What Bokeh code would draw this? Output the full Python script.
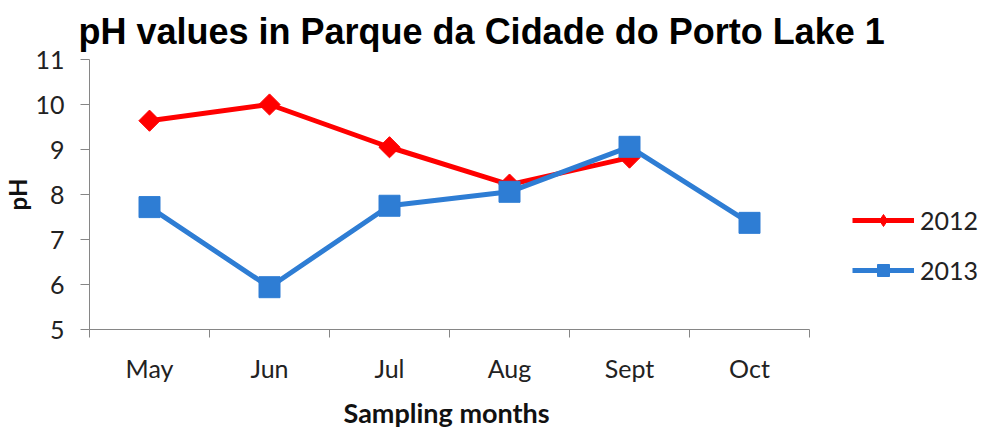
import math
from bokeh.plotting import figure
from bokeh.models import Range1d, FixedTicker, Legend, LegendItem, Title
from bokeh.embed import file_html
from bokeh.resources import INLINE

months = ["May", "Jun", "Jul", "Aug", "Sept", "Oct"]
months_2012 = ["May", "Jun", "Jul", "Aug", "Sept"]
ph_2012 = [9.64, 10.0, 9.05, 8.22, 8.82]
ph_2013 = [7.72, 5.94, 7.75, 8.06, 9.06, 7.37]
y_ticks = [5, 6, 7, 8, 9, 10, 11]
title_text = "pH values in Parque da Cidade do Porto Lake 1"
x_title = "Sampling months"
y_title = "pH"

RED = "#FF0000"
BLUE = "#2E7DD4"
AXIS = "#868686"
FONT = "Lato"

pos = {m: i + 1 for i, m in enumerate(months)}
x12 = [pos[m] for m in months_2012]
x13 = [pos[m] for m in months]
x_lo, x_hi = 0.5, len(months) + 0.5

# frame extends past the axis to host the legend (axis is bounded to the months)
p = figure(width=993, height=441, output_backend="svg", toolbar_location=None,
           x_range=Range1d(x_lo, x_hi + 1.5), y_range=Range1d(min(y_ticks), max(y_ticks)),
           min_border_left=89, min_border_right=4, min_border_top=59, min_border_bottom=112)
p.outline_line_color = None
p.xgrid.visible = False
p.ygrid.visible = False
p.background_fill_color = "white"
p.border_fill_color = "white"

p.title.text = title_text
p.title.align = "left"
p.title.offset = -11
p.title.text_font = "Liberation Sans"
p.title.text_font_style = "bold"
p.title.text_font_size = "36px"
p.title.text_color = "#000000"
p.title.standoff = 16

l1 = p.line(x12, ph_2012, line_color=RED, line_width=5, line_join="round")
# diamond key used for the legend; hidden under the rotated-square markers in the plot
k1 = p.scatter(x12, ph_2012, marker="diamond", size=19, fill_color=RED, line_color=RED)
s1 = p.scatter(x12, ph_2012, marker="square", angle=math.pi / 4, size=15,
               fill_color=RED, line_color=RED)
l2 = p.line(x13, ph_2013, line_color=BLUE, line_width=5, line_join="round")
s2 = p.scatter(x13, ph_2013, marker="square", size=21, fill_color=BLUE, line_color=BLUE)

xa = p.xaxis[0]
xa.bounds = (x_lo, x_hi)
xa.ticker = FixedTicker(ticks=list(pos.values()),
                        minor_ticks=[v - 0.5 for v in pos.values()] + [x_hi])
xa.major_label_overrides = {v: k for k, v in pos.items()}
xa.axis_line_color = AXIS
xa.major_tick_line_color = None
xa.major_tick_out = 0
xa.major_tick_in = 0
xa.minor_tick_line_color = AXIS
xa.minor_tick_out = 8
xa.minor_tick_in = 0
xa.major_label_standoff = 15
xa.major_label_text_font = FONT
xa.major_label_text_font_size = "25px"
xa.major_label_text_color = "#222222"

xt = Title(text=x_title, align="left", offset=254, standoff=16,
           text_font=FONT, text_font_style="bold", text_font_size="27px",
           text_color="#111111")
p.add_layout(xt, "below")

ya = p.yaxis[0]
ya.ticker = FixedTicker(ticks=y_ticks)
ya.axis_line_color = AXIS
ya.major_tick_line_color = AXIS
ya.major_tick_out = 9
ya.major_tick_in = 0
ya.minor_tick_line_color = None
ya.major_label_standoff = 16
ya.major_label_text_font = FONT
ya.major_label_text_font_size = "25px"
ya.major_label_text_color = "#222222"
ya.axis_label = y_title
ya.axis_label_text_font = FONT
ya.axis_label_text_font_style = "bold"
ya.axis_label_text_font_size = "24px"
ya.axis_label_text_color = "#111111"
ya.axis_label_standoff = 0

legend = Legend(items=[LegendItem(label="2012", renderers=[l1, k1]),
                       LegendItem(label="2013", renderers=[l2, s2])],
                location=(763, 44), border_line_color=None, background_fill_alpha=0,
                padding=0, margin=0, spacing=20, glyph_width=62, glyph_height=30,
                label_standoff=6, label_text_font=FONT, label_text_font_size="25px",
                label_text_color="#222222")
p.add_layout(legend)

open("out.html", "w").write(file_html(p, INLINE))
